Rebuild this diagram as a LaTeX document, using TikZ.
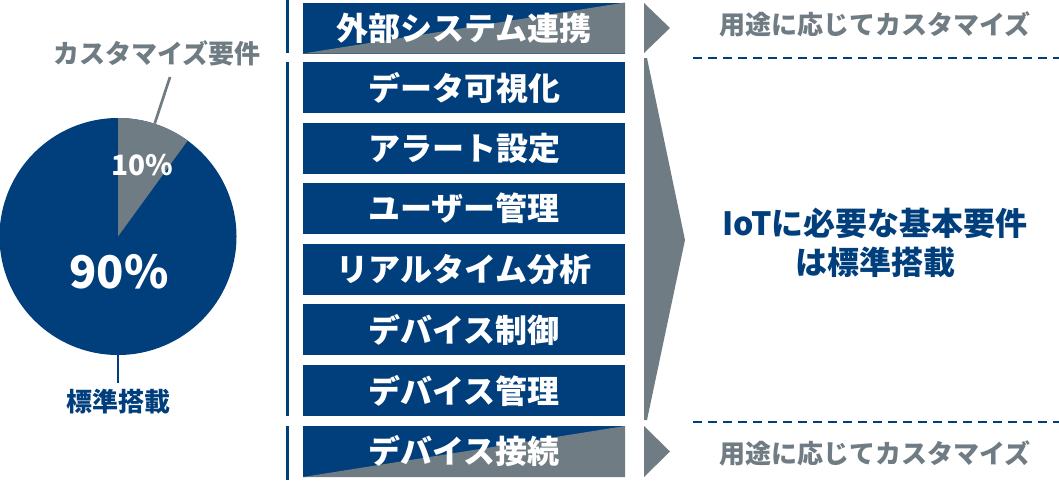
\documentclass[tikz,border=0pt]{standalone}
\usepackage{fontspec}
\setmainfont{Noto Sans CJK JP}
\definecolor{navy}{RGB}{0,62,124}
\definecolor{grayc}{RGB}{112,124,131}
\tikzset{
  box/.style={minimum width=322pt, minimum height=51pt, inner sep=0pt, fill=navy, text=white,
    font=\bfseries\fontsize{32}{38}\selectfont},
  splitbox/.style={box, path picture={\fill[grayc] (path picture bounding box.south west) -- (path picture bounding box.north east) -- (path picture bounding box.south east) -- cycle;}},
  vline/.style={draw=navy, line width=3pt},
  note/.style={text=grayc, font=\bfseries\fontsize{26}{30}\selectfont, inner sep=0pt},
  dashline/.style={draw=navy, line width=2.2pt, dash pattern=on 9pt off 6pt},
  arrowshape/.style={fill=grayc},
}
\begin{document}
\begin{tikzpicture}[x=1pt,y=-1pt]
\useasboundingbox (0,0) rectangle (1059,480);
% pie
\node[circle, fill=navy, minimum size=237pt, inner sep=0pt] (pie) at (118,236.5) {};
\fill[grayc] (pie.center) -- ++(90:118.5pt) arc[start angle=90, end angle=54, radius=118.5pt] -- cycle;
\node[text=white, font=\bfseries\fontsize{28}{32}\selectfont, inner sep=0pt] (p10) at (142,165) {10\%};
\node[text=white, font=\bfseries\fontsize{45}{50}\selectfont, inner sep=0pt] (p90) at (119,272) {90\%};
\node[note] (custlbl) at (157,53) {カスタマイズ要件};
\node[note, text=navy] (stdlbl) at (118,402) {標準搭載};
\coordinate (custend) at (170,77);
\coordinate (stdend) at (118,383);
\draw[grayc, line width=2.7pt] (pie.72) -- (custend);
\draw[navy, line width=2.7pt] (pie.south) -- (stdend);
% brackets
\draw[vline] (287,0) -- (287,53);
\draw[vline] (287,62) -- (287,416);
\draw[vline] (287,426) -- (287,480);
% boxes
\node[splitbox] (b1) at (464,28) {外部システム連携};
\node[box] (b2) at (464,87.5) {データ可視化};
\node[box] (b3) at (464,148.1) {アラート設定};
\node[box] (b4) at (464,208.7) {ユーザー管理};
\node[box] (b5) at (464,269.3) {リアルタイム分析};
\node[box] (b6) at (464,329.9) {デバイス制御};
\node[box] (b7) at (464,390.5) {デバイス管理};
\node[splitbox] (b8) at (464,451.5) {デバイス接続};
% arrows
\fill[arrowshape] (644,3) -- (670,28) -- (644,53) -- cycle;
\fill[arrowshape] (644,58) -- (647,58) -- (685,240) -- (647,420) -- (644,420) -- cycle;
\fill[arrowshape] (644,426) -- (670,451.5) -- (644,477) -- cycle;
% right side
\node[note] (n1) at (875,24) {用途に応じてカスタマイズ};
\node[note] (n2) at (875,453) {用途に応じてカスタマイズ};
\coordinate (d1a) at (693,58); \coordinate (d1b) at (1059,58);
\coordinate (d2a) at (693,422); \coordinate (d2b) at (1059,422);
\draw[dashline] (d1a) -- (d1b);
\draw[dashline] (d2a) -- (d2b);
\node[text=navy, font=\bfseries\fontsize{32}{39}\selectfont, align=center, inner sep=0pt] (core) at (875,243) {IoTに必要な基本要件\\は標準搭載};
\end{tikzpicture}
\end{document}
